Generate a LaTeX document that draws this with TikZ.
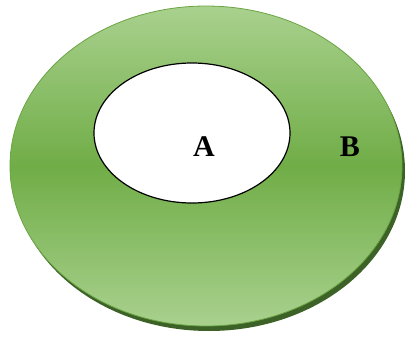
\documentclass[tikz,border=0pt]{standalone}
\usepackage{fontspec}
\setmainfont{Liberation Serif}
\usetikzlibrary{shapes.geometric}
\definecolor{hijauMuda}{HTML}{A9D18E}
\definecolor{hijauTua}{HTML}{70AD47}
\definecolor{hijauGaris}{HTML}{6AA443}
\definecolor{bayang}{HTML}{3D6227}
\begin{document}
\begin{tikzpicture}[x=1pt,y=-1pt,
    luar/.style={ellipse,inner sep=0pt,minimum width=392pt,minimum height=320pt,
      draw=hijauGaris,line width=0.8pt,top color=hijauMuda,bottom color=hijauMuda,middle color=hijauTua},
    bayangan/.style={ellipse,inner sep=0pt,minimum width=392pt,minimum height=320pt,fill=bayang},
    dalam/.style={ellipse,draw,line width=1.2pt,fill=white,inner sep=0pt,minimum width=196pt,minimum height=140pt},
    huruf/.style={font=\fontsize{30}{32}\selectfont\bfseries}]
  \useasboundingbox (0,0) rectangle (405,338);
  % Himpunan B dengan bayangan
  \node[bayangan] (Bs) at (209,171) {};
  \node[luar] (B) at (206,166) {};
  % Himpunan A di dalam B
  \node[dalam] (A) at (192,133) {};
  % Label
  \node[huruf] (lA) at (204,147) {A};
  \node[huruf] (lB) at (350,147) {B};
\end{tikzpicture}
\end{document}
